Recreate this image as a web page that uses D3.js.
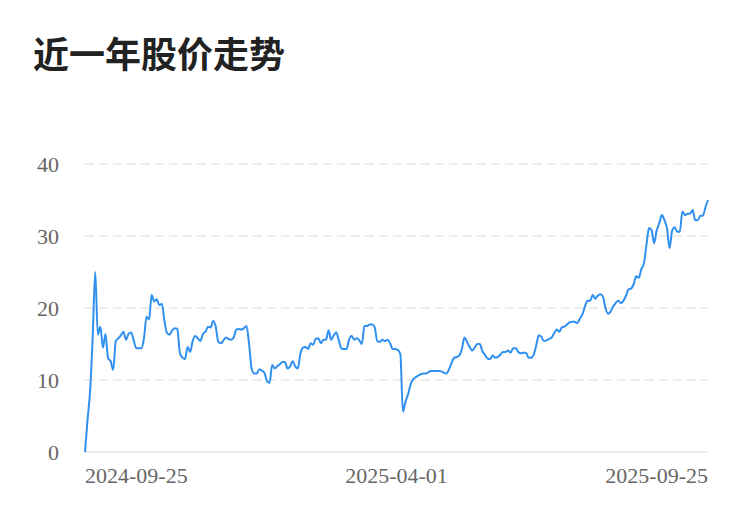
<!DOCTYPE html>
<html>
<head>
<meta charset="utf-8">
<script src="https://cdn.jsdelivr.net/npm/d3@7"></script>
<style>
  html, body { margin: 0; padding: 0; background: #ffffff; }
  svg { display: block; }
</style>
</head>
<body>
<svg id="chart" width="750" height="522"></svg>
<script>
const title = "近一年股价走势";
const tickLabels = ["2024-09-25", "2025-04-01", "2025-09-25"];
const yTicks = [0, 10, 20, 30, 40];
const prices = [
  0, 4.5, 8.5, 16, 25, 16.3, 17.4, 14.5, 16.4, 13.0,
  12.6, 11.4, 15.4, 15.8, 16.2, 16.7, 15.6, 16.4, 16.6, 15.5,
  14.4, 14.4, 14.4, 15.8, 18.8, 18.4, 21.8, 20.9, 21.2, 20.4,
  20.6, 18.2, 16.5, 16.3, 16.9, 17.2, 17.1, 13.8, 13.1, 12.9,
  14.6, 13.9, 15.4, 16.1, 15.8, 15.4, 16.4, 16.7, 17.4, 17.3,
  18.2, 17.4, 15.3, 15.1, 15.5, 15.9, 15.7, 15.6, 15.9, 17.0,
  17.1, 17.0, 17.2, 17.5, 15.0, 11.6, 10.9, 10.9, 11.5, 11.3,
  11.0, 9.8, 9.6, 12.1, 11.6, 11.9, 12.2, 12.5, 12.5, 11.6,
  11.9, 12.6, 11.9, 11.6, 13.6, 14.5, 14.6, 14.3, 15.1, 14.9,
  15.7, 15.8, 15.1, 15.6, 15.6, 16.9, 15.6, 16.2, 16.6, 15.5,
  14.4, 14.3, 14.3, 15.6, 16.1, 15.6, 15.8, 15.5, 15.0, 17.5,
  17.5, 17.7, 17.7, 17.3, 15.4, 15.3, 15.6, 15.4, 15.6, 15.1,
  14.3, 14.3, 14.2, 13.6, 5.6, 7.0, 8.0, 9.4, 10.1, 10.4,
  10.6, 10.8, 10.9, 10.9, 11.1, 11.25, 11.25, 11.25, 11.25, 11.2,
  11.0, 10.9, 11.5, 12.4, 13.1, 13.2, 13.4, 14.3, 15.9, 15.3,
  14.6, 14.1, 14.5, 15.0, 15.0, 14.0, 13.5, 13.0, 12.9, 13.4,
  13.1, 13.2, 13.5, 13.9, 13.9, 14.1, 13.8, 14.4, 14.4, 13.9,
  13.7, 13.8, 13.8, 13.1, 13.1, 13.5, 14.8, 16.2, 16.0, 15.4,
  15.5, 15.7, 15.9, 16.5, 17.0, 16.7, 17.3, 17.4, 17.7, 18.0,
  18.1, 18.1, 17.9, 18.5, 19.1, 20.2, 21.0, 21.0, 21.8, 21.3,
  21.7, 21.9, 21.6, 20.0, 19.2, 19.5, 20.2, 20.7, 21.0, 20.7,
  21.0, 21.7, 22.6, 22.7, 23.3, 24.4, 24.2, 25.4, 26.2, 28.8,
  31.1, 30.8, 29.0, 30.8, 31.8, 32.9, 32.2, 31.1, 28.3, 30.7,
  31.2, 30.6, 30.6, 33.4, 32.9, 33.1, 33.1, 33.6, 32.2, 32.2,
  32.8, 32.8, 34.0, 35.0
];

const svg = d3.select("#chart");
const plotLeft = 85, plotRight = 708, plotTop = 164, plotBottom = 452;

const x = d3.scaleLinear().domain([0, prices.length - 1]).range([plotLeft, plotRight]);
const y = d3.scaleLinear().domain([0, 40]).range([plotBottom, plotTop]);

svg.append("text")
  .attr("x", 33).attr("y", 68)
  .attr("font-family", "'Noto Sans CJK SC', 'Noto Sans', sans-serif")
  .attr("font-size", 36).attr("font-weight", "bold")
  .attr("fill", "#222")
  .text(title);

// gridlines
svg.append("g").selectAll("line")
  .data(yTicks.filter(d => d !== 0))
  .join("line")
  .attr("x1", plotLeft).attr("x2", plotRight)
  .attr("y1", d => y(d)).attr("y2", d => y(d))
  .attr("stroke", "#ececec").attr("stroke-width", 2)
  .attr("stroke-dasharray", "9,5");

// baseline
svg.append("line")
  .attr("x1", plotLeft).attr("x2", plotRight)
  .attr("y1", y(0)).attr("y2", y(0))
  .attr("stroke", "#ececec").attr("stroke-width", 2);

// y labels
svg.append("g").selectAll("text")
  .data(yTicks)
  .join("text")
  .attr("x", 59).attr("y", d => y(d) + 7.5)
  .attr("text-anchor", "end")
  .attr("font-family", "'Liberation Serif', serif")
  .attr("font-size", 22)
  .attr("fill", "#666")
  .text(d => d);

// x labels
const tickPos = [0, (prices.length - 1) / 2, prices.length - 1];
const anchors = ["start", "middle", "end"];
svg.append("g").selectAll("text")
  .data(tickLabels)
  .join("text")
  .attr("x", (d, i) => x(tickPos[i]))
  .attr("y", 483)
  .attr("text-anchor", (d, i) => anchors[i])
  .attr("font-family", "'Liberation Serif', serif")
  .attr("font-size", 22)
  .attr("fill", "#666")
  .text(d => d);

// line
const line = d3.line()
  .x((d, i) => x(i))
  .y(d => y(d))
  .curve(d3.curveMonotoneX);

svg.append("path")
  .datum(prices)
  .attr("d", line)
  .attr("fill", "none")
  .attr("stroke", "#2f90f0")
  .attr("stroke-width", 2)
  .attr("stroke-linejoin", "round");
</script>
</body>
</html>
